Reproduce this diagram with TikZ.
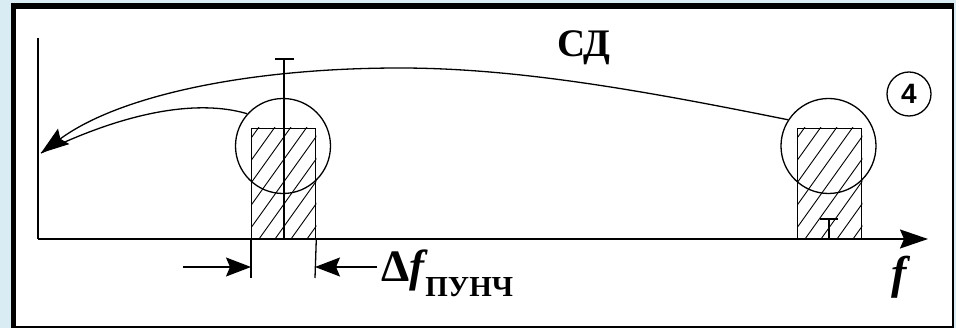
\documentclass[tikz,border=0pt]{standalone}
\usepackage{fontspec}
\setmainfont{Liberation Serif}
\newfontfamily\serifbold{Liberation Serif Bold}
\newfontfamily\serifbolditalic{Liberation Serif Bold Italic}
\newfontfamily\sansbold{Liberation Sans Bold}
\usetikzlibrary{arrows.meta}
\definecolor{bgblue}{RGB}{217,236,244}
\begin{document}
\begin{tikzpicture}[x=1pt,y=-1pt,
  axisline/.style={line width=1.8pt},
  thinline/.style={line width=1.3pt},
  hatchline/.style={line width=0.9pt},
  bigtip/.style={-{Stealth[length=28pt,width=19pt,inset=4pt]}},
  dimtip/.style={-{Stealth[length=25pt,width=19pt,inset=4pt]}},
  band/.style={draw, line width=1.3pt, minimum width=64pt, minimum height=110pt, inner sep=0pt, anchor=south west},
  ring/.style={circle, draw, line width=1.3pt, minimum size=95pt, inner sep=0pt},
  ]
\fill[bgblue] (0,0) rectangle (956,328);
\useasboundingbox (0,0) rectangle (956,328);
% frame
\fill[black] (11,3) rectangle (954,328);
\fill[white] (16,9) rectangle (952,326);

% axes
\coordinate (ytop) at (38,38);
\coordinate (org) at (38,239);
\coordinate (xend) at (928,239);
\draw[axisline] (ytop) -- (org);
\draw[axisline, bigtip] (org) -- (xend);

% bands
\node[band] (r1) at (251,239) {};
\node[band] (r2) at (797,239) {};
\begin{scope}
\clip (r1.south west) rectangle (r1.north east);
\foreach \i in {163,179,...,320} \draw[hatchline] (\i,239) -- ++(80,-112);
\end{scope}
\begin{scope}
\clip (r2.south west) rectangle (r2.north east);
\foreach \i in {709,725,...,866} \draw[hatchline] (\i,239) -- ++(80,-112);
\end{scope}
\node[band] at (251,239) {};
\node[band] at (797,239) {};

% circles
\node[ring] (c1) at (283,146) {};
\node[ring] (c2) at (828.5,146) {};

% centre marker of left band
\coordinate (m1) at (284,59);
\coordinate (m1b) at (284,239);
\draw[thinline] (m1) -- (m1b);
\draw[thinline] (275,59) -- (294,59);

% small T in right band
\coordinate (t1) at (829,219);
\coordinate (t1b) at (829,239);
\draw[thinline] (t1) -- (t1b);
\draw[thinline] (820,219) -- (838,219);

% curved arrows
\coordinate (tip) at (41,153);
\coordinate (peak) at (400,68);
\draw[thinline] (c1.138) .. controls (215,104) and (150,100) .. (tip);
\draw[thinline, bigtip] (c2.147) .. controls (650,92) and (520,68) .. (peak)
   .. controls (250,68) and (120,95) .. (tip);

% dimension
\coordinate (e1) at (251,278);
\coordinate (e2) at (315,278);
\draw[thinline] (r1.south west) -- (e1);
\draw[thinline] (r1.south east) -- (e2);
\coordinate (d1) at (183,267);
\coordinate (d1e) at (251,267);
\coordinate (d2) at (377,267);
\coordinate (d2e) at (315,267);
\draw[thinline, dimtip] (d1) -- (d1e);
\draw[thinline, dimtip] (d2) -- (d2e);

% labels
\node[anchor=base west, inner sep=0pt] (dlab) at (381,282)
  {\fontsize{45}{45}\selectfont\serifbold Δ\serifbolditalic f\kern1pt\raisebox{-15pt}{\serifbold\fontsize{29}{29}\selectfont ПУНЧ}};
\node[anchor=base west, inner sep=0pt] (sd) at (557,57) {\serifbold\fontsize{39}{39}\selectfont СД};
\node[circle, draw, line width=1.3pt, minimum size=44pt, inner sep=0pt] (n4) at (909,94)
  {\sansbold\fontsize{28}{28}\selectfont 4};
\node[anchor=base west, inner sep=0pt] (fl) at (891,289) {\serifbolditalic\fontsize{46}{46}\selectfont f};
\end{tikzpicture}
\end{document}
